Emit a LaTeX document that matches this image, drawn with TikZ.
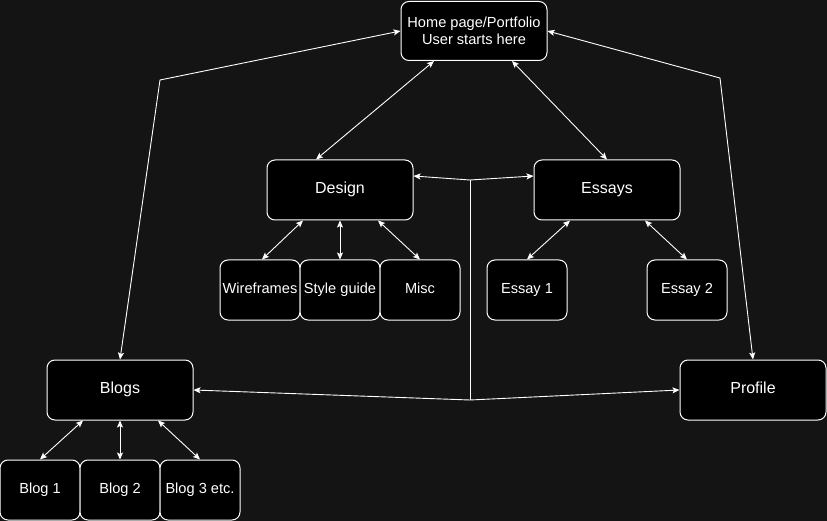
\documentclass[tikz,border=0pt]{standalone}
\usepackage{fontspec}
\setmainfont{Liberation Sans}
\usetikzlibrary{arrows.meta}
\definecolor{bgc}{RGB}{20,20,20}
\begin{document}
\begin{tikzpicture}[x=1pt,y=-1pt,
  frame/.style={draw=white,fill=black,rounded corners=8pt,line width=1pt,text=white,
    inner sep=0pt,align=center,minimum width=146pt,minimum height=60pt},
  box/.style={frame,font=\fontsize{16}{19}\selectfont,text height=0.9em,text depth=0.19em},
  small/.style={frame,minimum width=80pt,font=\fontsize{14.6}{17}\selectfont,text height=0.9em,text depth=0.19em},
  link/.style={draw=white,line width=0.9pt,{Stealth[length=7pt,width=6pt,inset=1.5pt]}-{Stealth[length=7pt,width=6pt,inset=1.5pt]}},
  plain/.style={draw=white,line width=0.9pt}]
\fill[bgc] (0,0) rectangle (827,521);
\useasboundingbox (0,0) rectangle (827,521);
\node[frame,minimum height=59pt,font=\fontsize{14.6}{17}\selectfont] (home) at (474,31) {Home page/Portfolio\\User starts here};
\node[box] (design) at (340,190) {Design};
\node[box] (essays) at (607,190) {Essays};
\node[small] (wire) at (260,290) {Wireframes};
\node[small] (style) at (340,290) {Style guide};
\node[small] (misc) at (420,290) {Misc};
\node[small] (essay1) at (527,290) {Essay 1};
\node[small] (essay2) at (687,290) {Essay 2};
\node[box] (blogs) at (120,390) {Blogs};
\node[box] (profile) at (753,390) {Profile};
\node[small] (blog1) at (40,490) {Blog 1};
\node[small] (blog2) at (120,490) {Blog 2};
\node[small] (blog3) at (200,490) {Blog 3 etc.};
\coordinate (wl) at (160,80);
\coordinate (wr) at (720,78);
\coordinate (jt) at (470,180);
\coordinate (jb) at (470,400);
% top level
\draw[link] ([xshift=-40pt]home.south) -- ([xshift=-24pt]design.north);
\draw[link] ([xshift=38pt]home.south) -- (essays.north);
\draw[link] (home.west) -- (wl) -- (blogs.north);
\draw[link] (home.east) -- (wr) -- (profile.north);
% junctions
\draw[link] ([yshift=14pt]design.east) -- (jt) -- ([yshift=14pt]essays.west);
\draw[link] (blogs.east) -- (jb) -- (profile.west);
\draw[plain] (jt) -- (jb);
% children
\draw[link] ([xshift=-37pt]design.south) -- ([xshift=2pt]wire.north);
\draw[link] (design.south) -- (style.north);
\draw[link] ([xshift=38pt]design.south) -- (misc.north);
\draw[link] ([xshift=-37pt]essays.south) -- (essay1.north);
\draw[link] ([xshift=38pt]essays.south) -- (essay2.north);
\draw[link] ([xshift=-37pt]blogs.south) -- (blog1.north);
\draw[link] (blogs.south) -- (blog2.north);
\draw[link] ([xshift=38pt]blogs.south) -- (blog3.north);
\end{tikzpicture}
\end{document}
